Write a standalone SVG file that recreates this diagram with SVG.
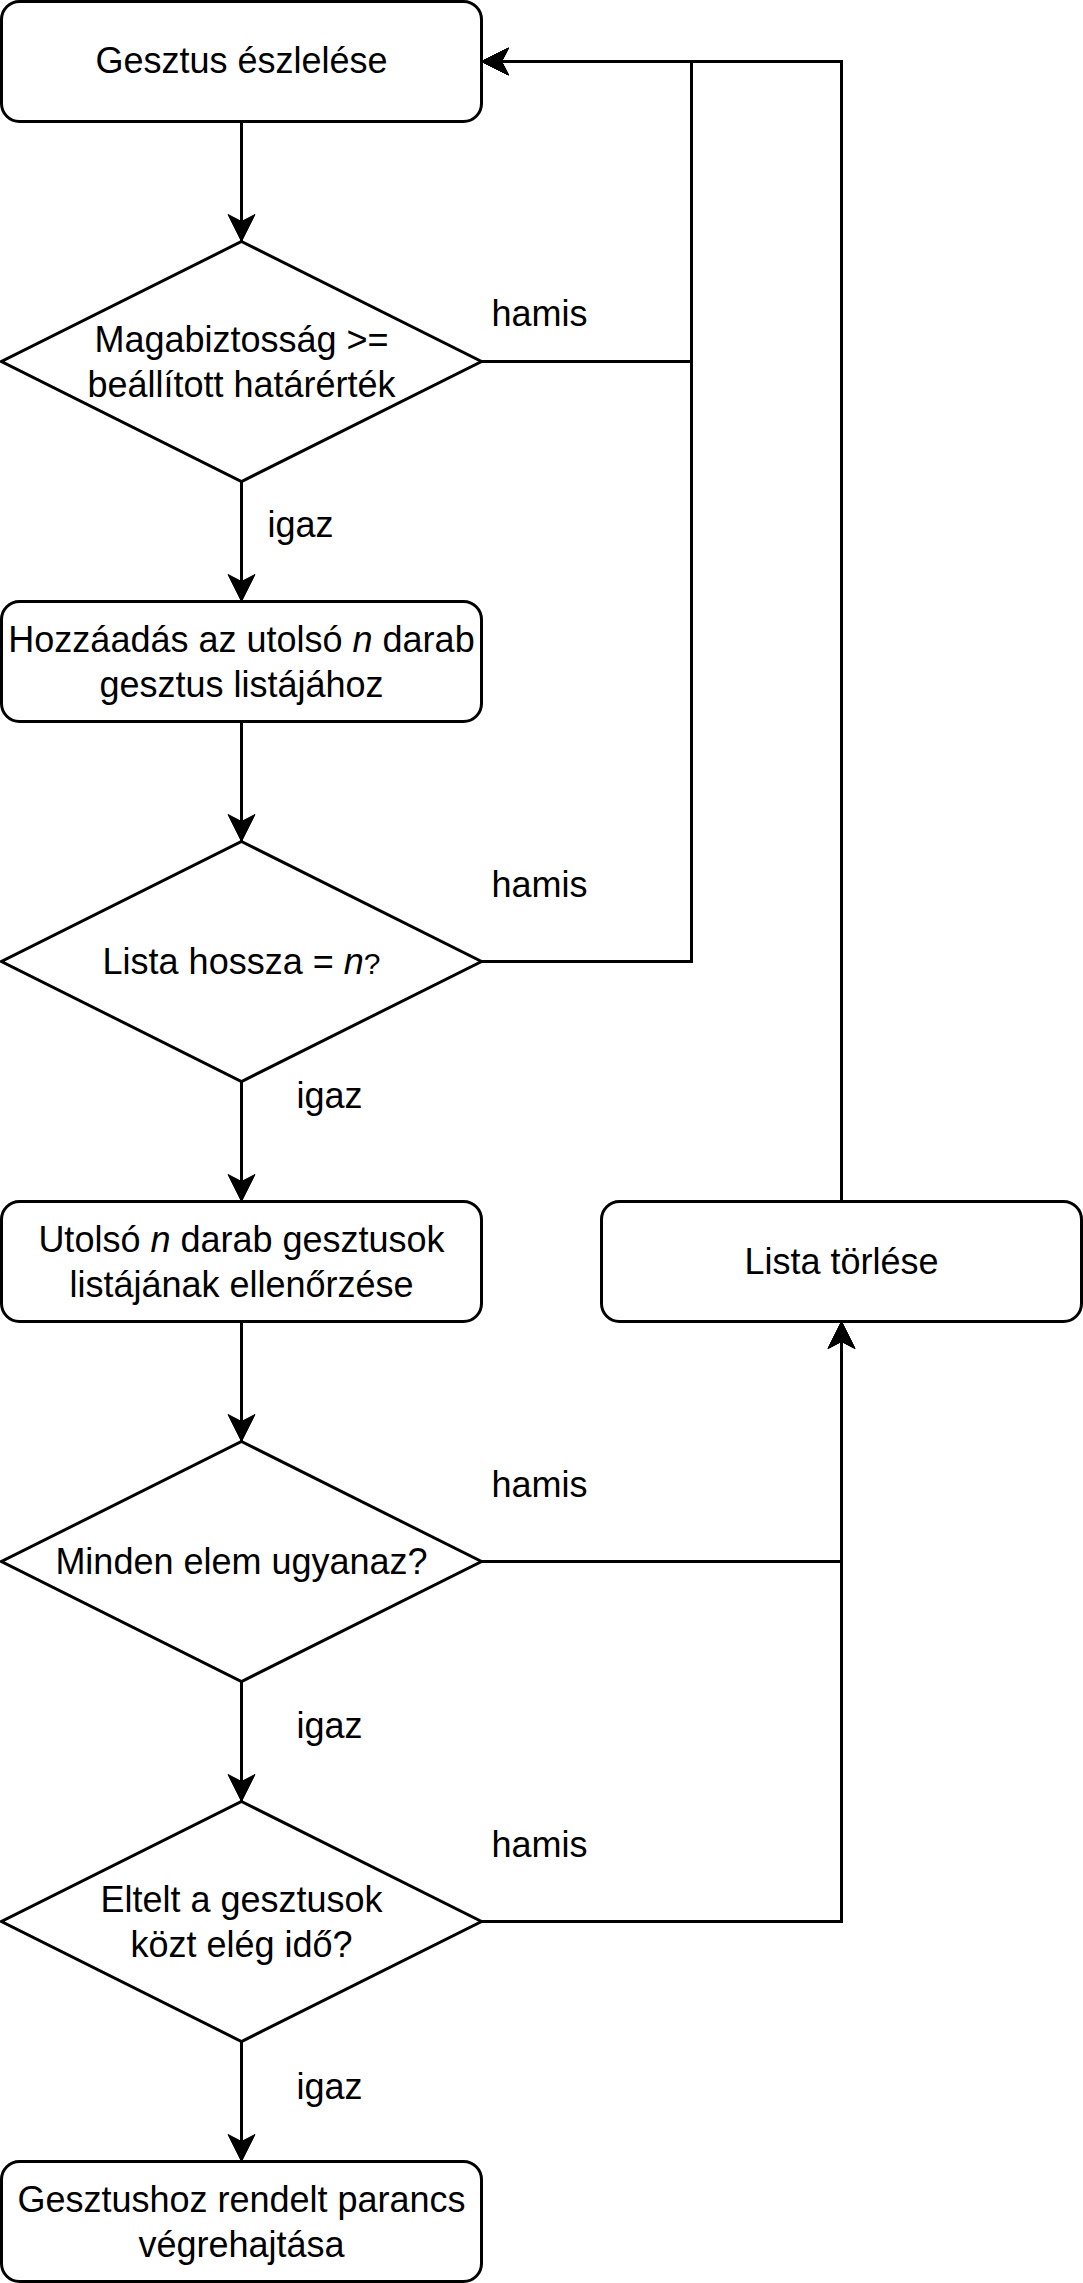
<svg xmlns="http://www.w3.org/2000/svg" width="1083" height="2283" viewBox="0 0 1083 2283">
<defs>
<marker id="arr" markerUnits="userSpaceOnUse" markerWidth="30" markerHeight="30" viewBox="-28 -15 30 30" refX="0" refY="0" orient="auto">
<path d="M0,0 L-27,-13.5 L-20,0 L-27,13.5 Z" fill="#000" stroke="#000" stroke-width="1" stroke-linejoin="miter"/>
</marker>
<style>
.n{fill:#fff;stroke:#000;stroke-width:3}
.e{fill:none;stroke:#000;stroke-width:3;marker-end:url(#arr)}
text{font-family:"Liberation Sans",Arial,sans-serif;font-size:36px;fill:#000;text-anchor:middle}
</style>
</defs>
<rect width="1083" height="2283" fill="#fff"/>
<g id="connectors">
<path class="e" d="M241.5,121.5 V241.5"/>
<path class="e" d="M481.5,361.5 H691.5 V61.5 H481.5"/>
<path class="e" d="M481.5,961.5 H691.5 V61.5 H481.5"/>
<path class="e" d="M841.5,1201.5 V61.5 H481.5"/>
<path class="e" d="M241.5,481.5 V601.5"/>
<path class="e" d="M241.5,721.5 V841.5"/>
<path class="e" d="M241.5,1081.5 V1201.5"/>
<path class="e" d="M241.5,1321.5 V1441.5"/>
<path class="e" d="M481.5,1561.5 H841.5 V1321.5"/>
<path class="e" d="M241.5,1681.5 V1801.5"/>
<path class="e" d="M481.5,1921.5 H841.5 V1321.5"/>
<path class="e" d="M241.5,2041.5 V2161.5"/>
<text x="539.5" y="326">hamis</text>
<text x="300.5" y="537">igaz</text>
<text x="539.5" y="897">hamis</text>
<text x="329.5" y="1108">igaz</text>
<text x="539.5" y="1497">hamis</text>
<text x="329.5" y="1738">igaz</text>
<text x="539.5" y="1857">hamis</text>
<text x="329.5" y="2099">igaz</text>
</g>
<g id="n1"><rect class="n" x="1.5" y="1.5" width="480" height="120" rx="18"/><text x="241.5" y="73">Gesztus észlelése</text></g>
<g id="d1"><path class="n" d="M241.5,241.5 L481.5,361.5 L241.5,481.5 L1.5,361.5 Z"/><text x="241.5" y="351.6">Magabiztosság &gt;=</text><text x="241.5" y="396.6">beállított határérték</text></g>
<g id="n2"><rect class="n" x="1.5" y="601.5" width="480" height="120" rx="18"/><text x="241.5" y="651.6">Hozzáadás az utolsó <tspan font-style="italic">n</tspan> darab</text><text x="241.5" y="696.6">gesztus listájához</text></g>
<g id="d2"><path class="n" d="M241.5,841.5 L481.5,961.5 L241.5,1081.5 L1.5,961.5 Z"/><text x="241.5" y="974">Lista hossza = <tspan font-style="italic">n</tspan><tspan font-size="30">?</tspan></text></g>
<g id="n3"><rect class="n" x="1.5" y="1201.5" width="480" height="120" rx="18"/><text x="241.5" y="1251.6">Utolsó <tspan font-style="italic">n</tspan> darab gesztusok</text><text x="241.5" y="1296.6">listájának ellenőrzése</text></g>
<g id="n4"><rect class="n" x="601.5" y="1201.5" width="480" height="120" rx="18"/><text x="841.5" y="1274">Lista törlése</text></g>
<g id="d3"><path class="n" d="M241.5,1441.5 L481.5,1561.5 L241.5,1681.5 L1.5,1561.5 Z"/><text x="241.5" y="1574">Minden elem ugyanaz?</text></g>
<g id="d4"><path class="n" d="M241.5,1801.5 L481.5,1921.5 L241.5,2041.5 L1.5,1921.5 Z"/><text x="241.5" y="1911.6">Eltelt a gesztusok</text><text x="241.5" y="1956.6">közt elég idő?</text></g>
<g id="n5"><rect class="n" x="1.5" y="2161.5" width="480" height="120" rx="18"/><text x="241.5" y="2211.6">Gesztushoz rendelt parancs</text><text x="241.5" y="2256.6">végrehajtása</text></g>
</svg>
